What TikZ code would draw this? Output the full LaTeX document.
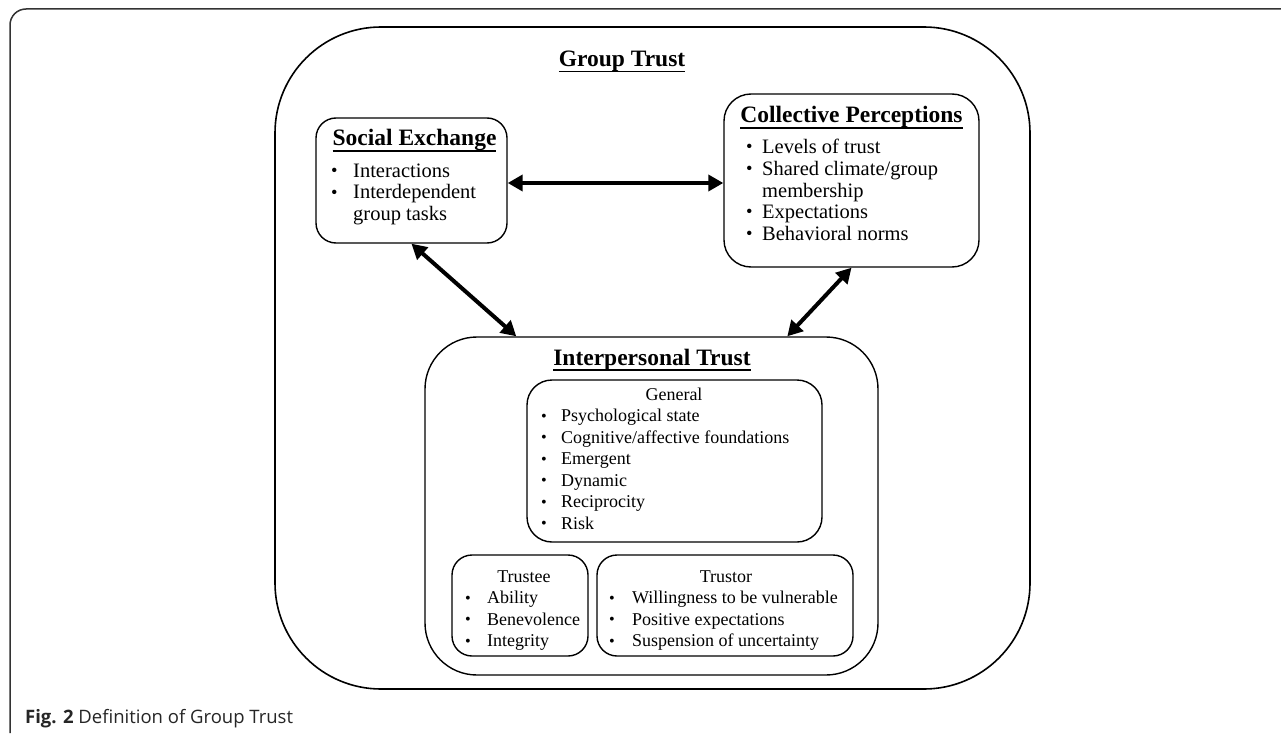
\documentclass[tikz,border=0pt]{standalone}
\usepackage{fontspec}
\usepackage{graphicx}
\setmainfont{Liberation Serif}
\newfontfamily\capfont{Open Sans}
\usetikzlibrary{arrows.meta,calc}
\newcommand\hdfnt{\fontsize{23.5}{26}\selectfont\bfseries}
\newcommand\bdfnt{\fontsize{20.5}{21.5}\selectfont}
\newcommand\smfnt{\fontsize{18}{21.5}\selectfont}
\newcommand\myul[1]{\setbox0\hbox{#1}\rlap{\rule[-5.5pt]{\wd0}{1.8pt}}\box0}
\newcommand\mybul{\raisebox{0.4pt}{\scalebox{0.9}{\textbullet}}}
\newcommand\bline[6]{\node[#1] (#2b) at (#3,#5) {\mybul}; \node[#1] (#2) at (#4,#5) {#6};}
\tikzset{
  bx/.style={draw, line width=1.4pt, rounded corners=#1, inner sep=0},
  hd/.style={inner sep=0, anchor=base, font=\hdfnt},
  bd/.style={inner sep=0, anchor=base west, font=\bdfnt},
  sm/.style={inner sep=0, anchor=base west, font=\smfnt},
  smc/.style={inner sep=0, anchor=base, font=\smfnt},
  arr/.style={line width=4pt, {Triangle[length=15pt,width=16pt]}-{Triangle[length=15pt,width=16pt]}},
  frame/.style={draw=black!80, line width=1.5pt, rounded corners=16pt}
}
\begin{document}
\begin{tikzpicture}[x=1pt,y=-1pt]
\useasboundingbox (0,0) rectangle (1281,733);
\fill[white] (0,0) rectangle (1281,733);
\draw[frame] (1281,9) -- (10,9) -- (10,733);

% boxes
\node[bx=106pt, line width=1.6pt, minimum width=755pt, minimum height=662pt] (gt) at (652.5,358) {};
\node[bx=20pt, minimum width=191pt, minimum height=125pt] (se) at (411.5,180.5) {};
\node[bx=27pt, minimum width=255pt, minimum height=173pt] (cp) at (851.5,180.5) {};
\node[bx=52pt, minimum width=453pt, minimum height=338pt] (ip) at (651.5,506) {};
\node[bx=25pt, minimum width=295pt, minimum height=162pt] (gen) at (674.5,461) {};
\node[bx=20pt, minimum width=136pt, minimum height=101pt] (tee) at (520,605.5) {};
\node[bx=20pt, minimum width=256pt, minimum height=101pt] (tor) at (725,605.5) {};

% headings
\node[hd] (gtt) at (622,67) {\myul{Group Trust}};
\node[hd] (set) at (414.5,146) {\myul{Social Exchange}};
\node[hd] (cpt) at (851.5,123) {\myul{Collective Perceptions}};
\node[hd] (ipt) at (652,365) {\myul{Interpersonal Trust}};

% social exchange
\bline{bd}{se1}{331}{353}{177}{Interactions}
\bline{bd}{se2}{331}{353}{198.5}{Interdependent}
\node[bd] (se3) at (353,220) {group tasks};

% collective perceptions
\bline{bd}{cp1}{746}{762}{153}{Levels of trust}
\bline{bd}{cp2}{746}{762}{175}{Shared climate/group}
\node[bd] (cp3) at (762,197) {membership};
\bline{bd}{cp4}{746}{762}{218}{Expectations}
\bline{bd}{cp5}{746}{762}{240}{Behavioral norms}

% general
\node[smc] (gent) at (674,400) {General};
\bline{sm}{g1}{541}{561}{421.5}{Psychological state}
\bline{sm}{g2}{541}{561}{443}{Cognitive/affective foundations}
\bline{sm}{g3}{541}{561}{464.5}{Emergent}
\bline{sm}{g4}{541}{561}{486}{Dynamic}
\bline{sm}{g5}{541}{561}{507.5}{Reciprocity}
\bline{sm}{g6}{541}{561}{529}{Risk}

% trustee
\node[smc] (teet) at (524,582) {Trustee};
\bline{sm}{te1}{465}{487}{603.5}{Ability}
\bline{sm}{te2}{465}{487}{625}{Benevolence}
\bline{sm}{te3}{465}{487}{646.5}{Integrity}

% trustor
\node[smc] (tort) at (726,582) {Trustor};
\bline{sm}{to1}{609}{632}{603.5}{Willingness to be vulnerable}
\bline{sm}{to2}{609}{632}{625}{Positive expectations}
\bline{sm}{to3}{609}{632}{646.5}{Suspension of uncertainty}

% arrows
\draw[arr] ($(se.east)+(0,2.5)$) -- ($(cp.west)+(0,2.5)$);
\draw[arr] (se.south) -- ($(ip.north west)+(92,0)$);
\draw[arr] (cp.south) -- ($(ip.north west)+(363,0)$);

% caption
\node[inner sep=0, anchor=base west, font=\capfont\fontsize{18.5}{20}\selectfont, text=black!85] (cap) at (25,723) {\textbf{Fig. 2} Definition of Group Trust};
\end{tikzpicture}
\end{document}
